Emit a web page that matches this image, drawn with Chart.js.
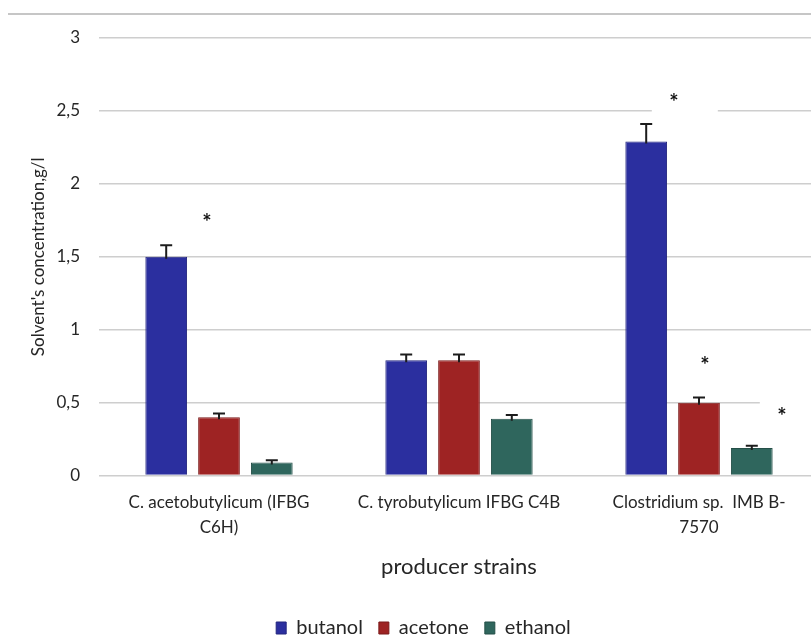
<!DOCTYPE html>
<html>
<head>
<meta charset="utf-8">
<script src="https://cdn.jsdelivr.net/npm/chart.js@4.4.1/dist/chart.umd.min.js"></script>
<style>
  html, body { margin: 0; padding: 0; background: #fff; overflow: hidden; }
  #wrap { position: relative; width: 811px; height: 637px; overflow: hidden; }
  #frame { position: absolute; top: 13px; left: 8px; right: 0; height: 2px; background: #c6c6c6; }
  #box { position: absolute; top: 0; left: 0; width: 822px; height: 648px; }
</style>
</head>
<body>
<div id="wrap">
  <div id="frame"></div>
  <div id="box"><canvas id="solvents"></canvas></div>
</div>
<script>
let strains = [
  ['C. acetobutylicum (IFBG', 'C6H)'],
  'C. tyrobutylicum IFBG C4B',
  ['Clostridium sp.  IMB B-', '7570']
];
let butanol = [1.5, 0.79, 2.29];
let butanolErr = [0.08, 0.04, 0.12];
let acetone = [0.4, 0.79, 0.5];
let acetoneErr = [0.025, 0.04, 0.035];
let ethanol = [0.09, 0.39, 0.19];
let ethanolErr = [0.015, 0.025, 0.015];

// significance marks: category, value, shift as part of the category width
let starCategory = [0, 2, 2, 2];
let starValue = [1.76, 2.58, 0.78, 0.43];
let starShift = [-0.05, -0.105, 0.025, 0.345];

let textColor = '#262626';
let fontName = 'Lato, "Open Sans", sans-serif';

let errorBars = {
  id: 'errorBars',
  afterDatasetsDraw(chart) {
    let ctx = chart.ctx;
    let y = chart.scales.y;
    ctx.save();
    ctx.strokeStyle = '#1c1c1c';
    ctx.lineWidth = 2;
    chart.data.datasets.forEach((ds, i) => {
      chart.getDatasetMeta(i).data.forEach((bar, j) => {
        let top = y.getPixelForValue(ds.data[j] + ds.errors[j]);
        let base = y.getPixelForValue(ds.data[j]);
        ctx.beginPath();
        ctx.moveTo(bar.x, base + 2);
        ctx.lineTo(bar.x, top);
        ctx.moveTo(bar.x - 6, top);
        ctx.lineTo(bar.x + 6, top);
        ctx.stroke();
      });
    });
    ctx.restore();
  }
};

let stars = {
  id: 'stars',
  afterDatasetsDraw(chart) {
    let ctx = chart.ctx;
    let x = chart.scales.x;
    let y = chart.scales.y;
    let catWidth = x.width / strains.length;
    ctx.save();
    starCategory.forEach((c, i) => {
      let px = x.getPixelForValue(c) + starShift[i] * catWidth;
      let py = y.getPixelForValue(starValue[i]);
      ctx.fillStyle = '#fff';
      ctx.fillRect(px - 22, py - 15, 66, 30);
      ctx.fillStyle = '#111';
      ctx.font = 'bold 22px ' + fontName;
      ctx.textAlign = 'center';
      ctx.textBaseline = 'middle';
      ctx.fillText('*', px, py + 4);
    });
    ctx.restore();
  }
};

let solventChart = new Chart(document.getElementById('solvents').getContext('2d'), {
  type: 'bar',
  data: {
    labels: strains,
    datasets: [
      { label: 'butanol', data: butanol, errors: butanolErr,
        backgroundColor: '#2b2f9f', borderColor: '#23267f', borderWidth: 1 },
      { label: 'acetone', data: acetone, errors: acetoneErr,
        backgroundColor: '#9e2323', borderColor: '#7a1a1a', borderWidth: 1 },
      { label: 'ethanol', data: ethanol, errors: ethanolErr,
        backgroundColor: '#2f665d', borderColor: '#254f48', borderWidth: 1 }
    ]
  },
  options: {
    responsive: true,
    maintainAspectRatio: false,
    animation: false,
    layout: { padding: { top: 38, right: 3, left: 28, bottom: 0 } },
    datasets: { bar: { categoryPercentage: 0.66, barPercentage: 0.79 } },
    plugins: {
      tooltip: { enabled: false },
      legend: {
        position: 'bottom',
        labels: {
          color: textColor,
          font: { family: fontName, size: 20 },
          boxWidth: 10,
          boxHeight: 12,
          padding: 16
        }
      }
    },
    scales: {
      x: {
        grid: { display: false },
        border: { display: false },
        ticks: {
          color: textColor,
          font: { family: fontName, size: 17, lineHeight: 1.5 },
          padding: 6,
          maxRotation: 0,
          autoSkip: false
        },
        title: {
          display: true,
          text: 'producer strains',
          color: textColor,
          font: { family: fontName, size: 22 },
          padding: { top: 7, bottom: 22 }
        }
      },
      y: {
        min: 0,
        max: 3,
        afterFit: s => { s.width = 71; },
        ticks: {
          stepSize: 0.5,
          color: textColor,
          font: { family: fontName, size: 17 },
          padding: 19,
          callback: v => String(v).replace('.', ',')
        },
        grid: { color: '#cecece', lineWidth: 1.5, drawTicks: false },
        border: { display: false },
        title: {
          display: true,
          text: "Solvent's concentration,g/l",
          color: textColor,
          font: { family: fontName, size: 17 },
          padding: { top: 0, bottom: 10 }
        }
      }
    }
  },
  plugins: [errorBars, stars]
});
</script>
</body>
</html>
